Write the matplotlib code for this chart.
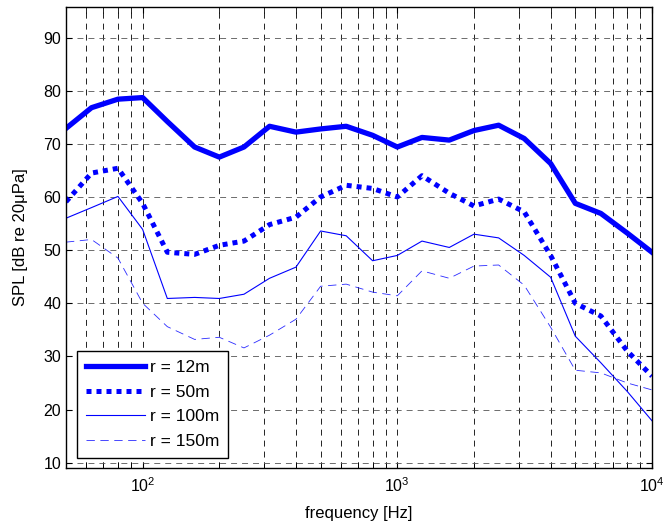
import matplotlib.pyplot as plt
from matplotlib.ticker import LogLocator, NullFormatter

plt.rcParams['font.family'] = ['Liberation Sans', 'DejaVu Sans']
plt.rcParams['lines.scale_dashes'] = False
plt.rcParams['mathtext.fontset'] = 'custom'
plt.rcParams['mathtext.rm'] = 'Liberation Sans'

# third-octave band centre frequencies
freq = [50, 63, 80, 100, 125, 160, 200, 250, 315, 400, 500, 630, 800,
        1000, 1250, 1600, 2000, 2500, 3150, 4000, 5000, 6300, 8000, 10000]

spl_12m = [72.9, 76.8, 78.4, 78.7, 74.2, 69.4, 67.5, 69.4, 73.3, 72.2, 72.8, 73.3, 71.6,
           69.4, 71.2, 70.7, 72.5, 73.5, 71.0, 66.3, 58.8, 56.9, 53.2, 49.6]
spl_50m = [59.1, 64.5, 65.4, 58.8, 49.6, 49.2, 50.9, 51.7, 54.8, 56.2, 60.0, 62.2, 61.6,
           60.0, 64.0, 60.7, 58.3, 59.6, 57.2, 49.0, 40.0, 37.6, 31.0, 26.3]
spl_100m = [56.0, 58.0, 60.1, 53.9, 40.9, 41.1, 40.9, 41.7, 44.7, 46.8, 53.6, 52.7, 48.0,
            49.0, 51.7, 50.5, 53.0, 52.3, 49.0, 44.9, 33.8, 28.8, 23.4, 17.9]
spl_150m = [51.5, 52.0, 48.5, 40.0, 35.6, 33.2, 33.6, 31.6, 34.0, 37.0, 43.2, 43.6, 42.1,
            41.4, 46.1, 44.7, 47.0, 47.2, 43.4, 35.5, 27.4, 26.9, 25.0, 23.7]

fig = plt.figure(figsize=(6.65, 5.27), dpi=100)
ax = fig.add_axes([0.0992, 0.1125, 0.8812, 0.8748])

ax.semilogx(freq, spl_12m, color='b', lw=3.8, label='r = 12m')
ax.semilogx(freq, spl_50m, color='b', lw=3.6, linestyle=(0, (3.6, 3.6)), label='r = 50m')
ax.semilogx(freq, spl_100m, color='b', lw=0.8, label='r = 100m')
ax.semilogx(freq, spl_150m, color='#2a2aff', lw=0.6, linestyle=(0, (6, 4)), label='r = 150m')

ax.set_xlim(50, 10000)
ax.set_ylim(9.06, 95.8)
ax.set_yticks(range(10, 100, 10))
ax.xaxis.set_minor_locator(LogLocator(base=10, subs=range(2, 10)))
ax.xaxis.set_minor_formatter(NullFormatter())

ax.grid(True, which='major', axis='y', color='#555555', lw=0.6, linestyle=(0, (4.3, 3.6)))
ax.grid(True, which='both', axis='x', color='k', lw=0.6, linestyle=(0, (4.3, 3.6)))

ax.tick_params(which='both', direction='in', top=True, right=True, labelsize=11.5)
ax.tick_params(which='major', length=4)
ax.tick_params(which='minor', length=4)
ax.tick_params(axis='x', pad=6)
for s in ax.spines.values():
    s.set_linewidth(1.0)

ax.set_xlabel('frequency [Hz]', fontsize=12, labelpad=8)
ax.set_ylabel('SPL [dB re 20\u03bcPa]', fontsize=12, labelpad=11)

leg = ax.legend(loc='lower left', bbox_to_anchor=(0.0188, 0.0217), borderaxespad=0,
                fancybox=False, edgecolor='k', framealpha=1, fontsize=12.5,
                handlelength=3.4, handletextpad=0.3, labelspacing=0.55, borderpad=0.5)
leg.get_frame().set_linewidth(1.0)

fig.savefig('out.png', dpi=100)
